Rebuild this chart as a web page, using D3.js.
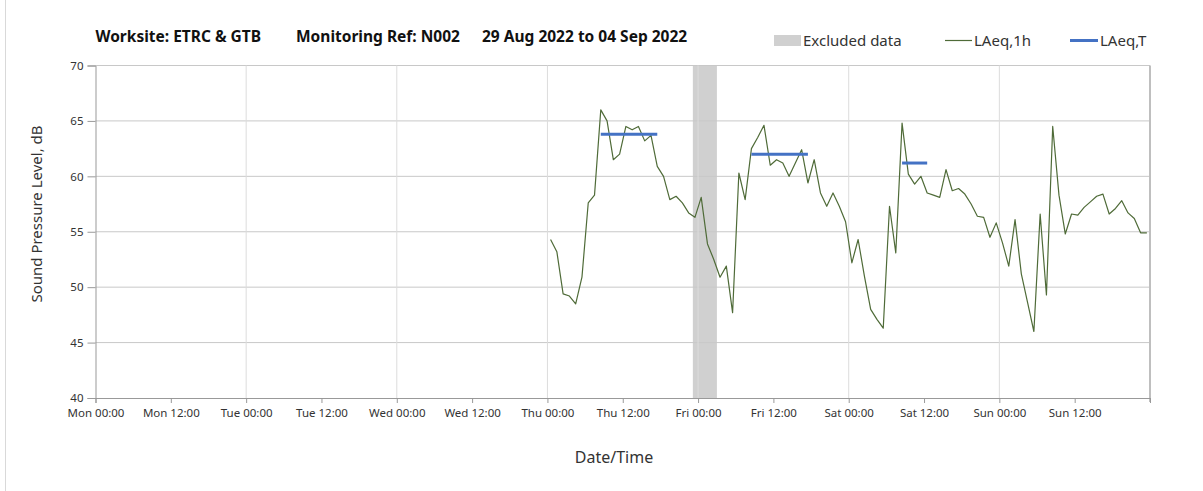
<!DOCTYPE html>
<html>
<head>
<meta charset="utf-8">
<script src="https://cdn.jsdelivr.net/npm/d3@7"></script>
<style>
  html, body { margin: 0; padding: 0; background: #fff; }
  svg { display: block; }
  text { font-family: "Noto Sans", "Open Sans", sans-serif; }
</style>
</head>
<body>
<svg id="chart" width="1203" height="491"></svg>
<script>
// ---------- DATA ----------
const weekStart = "2022-08-29T00:00";
const weekEnd = "2022-09-05T00:00";
const firstReading = "2022-09-01T00:30";   // hourly LAeq,1h readings from here
const laeq1h = [
  54.3, 53.2, 49.4, 49.2, 48.5, 50.9, 57.6, 58.3, 66.0, 65.0,
  61.5, 62.0, 64.5, 64.2, 64.5, 63.2, 63.7, 60.9, 60.0, 57.9,
  58.2, 57.6, 56.7, 56.3, 58.1, 53.9, 52.5, 50.9, 51.9, 47.7,
  60.3, 57.9, 62.5, 63.5, 64.6, 61.0, 61.5, 61.2, 60.0, 61.2,
  62.4, 59.4, 61.5, 58.5, 57.3, 58.5, 57.3, 55.9, 52.2, 54.3,
  51.0, 48.0, 47.1, 46.3, 57.3, 53.1, 64.8, 60.2, 59.3, 60.0,
  58.5, 58.3, 58.1, 60.6, 58.7, 58.9, 58.4, 57.5, 56.4, 56.3,
  54.5, 55.8, 54.0, 51.9, 56.1, 51.2, 48.6, 46.0, 56.6, 49.3,
  64.5, 58.3, 54.8, 56.6, 56.5, 57.2, 57.7, 58.2, 58.4, 56.6,
  57.1, 57.8, 56.7, 56.2, 54.9, 54.9
];
const laeqTStart = ["2022-09-01T08:30", "2022-09-02T08:30", "2022-09-03T08:30"];
const laeqTEnd   = ["2022-09-01T17:30", "2022-09-02T17:30", "2022-09-03T12:30"];
const laeqTValue = [63.8, 62.0, 61.2];
const excludedStart = ["2022-09-01T23:10"];
const excludedEnd   = ["2022-09-02T03:00"];
const xTickLabels = ["Mon 00:00", "Mon 12:00", "Tue 00:00", "Tue 12:00", "Wed 00:00", "Wed 12:00",
                     "Thu 00:00", "Thu 12:00", "Fri 00:00", "Fri 12:00", "Sat 00:00", "Sat 12:00",
                     "Sun 00:00", "Sun 12:00"];
const yTicks = [40, 45, 50, 55, 60, 65, 70];
const titleParts = ["Worksite: ETRC & GTB", "Monitoring Ref: N002", "29 Aug 2022 to 04 Sep 2022"];
const legendLabels = ["Excluded data", "LAeq,1h", "LAeq,T"];

// ---------- SETUP ----------
const parse = d3.timeParse("%Y-%m-%dT%H:%M");
const svg = d3.select("#chart");
const L = 95.5, R = 1150, T = 65.5, B = 398;

const x = d3.scaleTime().domain([parse(weekStart), parse(weekEnd)]).range([L, R]);
const y = d3.scaleLinear().domain([40, 70]).range([B, T]);

const t0 = parse(firstReading);
const series = laeq1h.map((v, i) => ({ t: d3.timeHour.offset(t0, i), v }));

// outer frame (left edge visible)
svg.append("line").attr("x1", 5.5).attr("x2", 5.5).attr("y1", 0).attr("y2", 491)
  .attr("stroke", "#d9d9d9").attr("stroke-width", 1);

// excluded band
svg.selectAll("rect.excl").data(excludedStart.map((s, i) => ({ s: parse(s), e: parse(excludedEnd[i]) })))
  .enter().append("rect").attr("class", "excl")
  .attr("x", d => x(d.s)).attr("width", d => x(d.e) - x(d.s))
  .attr("y", T).attr("height", B - T)
  .attr("fill", "#d0d0d0");

// horizontal gridlines
svg.append("g").selectAll("line").data(yTicks.filter(v => v > 40)).enter().append("line")
  .attr("x1", L).attr("x2", R).attr("y1", d => y(d)).attr("y2", d => y(d))
  .attr("stroke", "#c8c8c8").attr("stroke-width", 1);

// vertical day gridlines
const dayTicks = d3.timeDay.range(d3.timeDay.offset(parse(weekStart), 1), parse(weekEnd));
svg.append("g").selectAll("line").data(dayTicks).enter().append("line")
  .attr("x1", d => x(d)).attr("x2", d => x(d)).attr("y1", T).attr("y2", B)
  .attr("stroke", "#dcdcdc").attr("stroke-width", 1);

// right border
svg.append("line").attr("x1", R).attr("x2", R).attr("y1", T).attr("y2", B + 4)
  .attr("stroke", "#bfbfbf").attr("stroke-width", 2);

// x axis
const xTickVals = d3.timeHour.every(12).range(parse(weekStart), d3.timeHour.offset(parse(weekEnd), 1));
const xAxis = d3.axisBottom(x).tickValues(xTickVals)
  .tickSize(5).tickPadding(6)
  .tickFormat((d, i) => xTickLabels[i] || "");
const gx = svg.append("g").attr("transform", `translate(0,${B})`).call(xAxis);
gx.select(".domain").attr("stroke", "#999");
gx.selectAll(".tick line").attr("stroke", "#999");
gx.selectAll(".tick text").attr("fill", "#333").style("font-size", "11.5px")
  .style("font-family", '"Noto Sans", sans-serif');

// y axis
const yAxis = d3.axisLeft(y).tickValues(yTicks).tickSize(8).tickPadding(4).tickFormat(d3.format("d"));
const gy = svg.append("g").attr("transform", `translate(${L},0)`).call(yAxis);
gy.select(".domain").attr("stroke", "#999");
gy.selectAll(".tick line").attr("stroke", "#999");
gy.selectAll(".tick text").attr("fill", "#333").style("font-size", "11.5px")
  .style("font-family", '"Noto Sans", sans-serif');

// LAeq,1h line
svg.append("path").datum(series)
  .attr("d", d3.line().x(d => x(d.t)).y(d => y(d.v)))
  .attr("fill", "none").attr("stroke", "#4f6b38").attr("stroke-width", 1.2)
  .attr("stroke-linejoin", "round");

// LAeq,T segments
svg.append("g").selectAll("line").data(laeqTValue.map((v, i) => ({ s: parse(laeqTStart[i]), e: parse(laeqTEnd[i]), v })))
  .enter().append("line")
  .attr("x1", d => x(d.s)).attr("x2", d => x(d.e))
  .attr("y1", d => y(d.v)).attr("y2", d => y(d.v))
  .attr("stroke", "#4472c4").attr("stroke-width", 3);

// axis titles
svg.append("text").attr("x", 614).attr("y", 463).attr("text-anchor", "middle")
  .attr("fill", "#333").style("font-size", "16px").text("Date/Time");
svg.append("text").attr("transform", "translate(42,214) rotate(-90)").attr("text-anchor", "middle")
  .attr("fill", "#333").style("font-size", "15px").text("Sound Pressure Level, dB");

// title
const titleX = [95.5, 296, 482];
svg.append("g").selectAll("text").data(titleParts).enter().append("text")
  .attr("x", (d, i) => titleX[i]).attr("y", 42)
  .attr("fill", "#111").style("font-size", "15.5px").style("font-weight", "bold")
  .text(d => d);

// legend
const lg = svg.append("g");
lg.append("rect").attr("x", 774).attr("y", 35).attr("width", 27).attr("height", 11).attr("fill", "#d0d0d0");
lg.append("text").attr("x", 803).attr("y", 46).attr("fill", "#333").style("font-size", "15px").text(legendLabels[0]);
lg.append("line").attr("x1", 945).attr("x2", 972).attr("y1", 40.5).attr("y2", 40.5)
  .attr("stroke", "#4f6b38").attr("stroke-width", 1.2);
lg.append("text").attr("x", 974).attr("y", 46).attr("fill", "#333").style("font-size", "15px").text(legendLabels[1]);
lg.append("line").attr("x1", 1070).attr("x2", 1098).attr("y1", 40.5).attr("y2", 40.5)
  .attr("stroke", "#4472c4").attr("stroke-width", 3);
lg.append("text").attr("x", 1100).attr("y", 46).attr("fill", "#333").style("font-size", "15px").text(legendLabels[2]);
</script>
</body>
</html>
